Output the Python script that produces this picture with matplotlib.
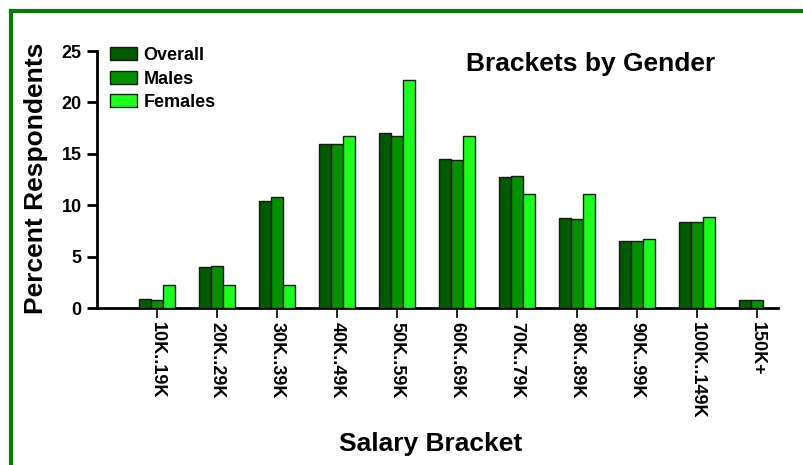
import matplotlib
matplotlib.use("Agg")
import matplotlib.pyplot as plt
from matplotlib.lines import Line2D
import numpy as np

plt.rcParams['font.family'] = ['Liberation Sans', 'DejaVu Sans']

brackets = ["10K..19K", "20K..29K", "30K..39K", "40K..49K", "50K..59K", "60K..69K",
            "70K..79K", "80K..89K", "90K..99K", "100K..149K", "150K+"]
overall = [0.9, 4.0, 10.4, 16.0, 17.0, 14.5, 12.7, 8.8, 6.5, 8.4, 0.8]
males = [0.8, 4.1, 10.8, 16.0, 16.7, 14.4, 12.8, 8.7, 6.5, 8.4, 0.8]
females = [2.2, 2.2, 2.2, 16.7, 22.2, 16.7, 11.1, 11.1, 6.7, 8.9, 0.0]

series = [("Overall", overall, "#005a00"),
          ("Males", males, "#009000"),
          ("Females", females, "#1cff1c")]

fig = plt.figure(figsize=(8.04, 4.65), dpi=100)
ax = fig.add_axes([0.1206, 0.3376, 0.847, 0.5527])

x = np.arange(len(brackets))
w = 0.2
for i, (name, vals, col) in enumerate(series):
    vals = np.array(vals)
    keep = vals > 0
    ax.bar(x[keep] + (i - 1) * w, vals[keep], width=w, color=col,
           edgecolor="#1a1a1a", linewidth=1.0, label=name, zorder=3)

ax.set_xlim(-1, 10.35)
ax.set_ylim(0, 25)
ax.set_yticks([0, 5, 10, 15, 20, 25])
ax.set_xticks(x)
ax.set_xticklabels(brackets, rotation=-90, fontsize=13, fontweight="bold",
                   va="top", ha="center")
for lab in ax.get_yticklabels():
    lab.set_fontweight("bold")
    lab.set_fontsize(13)

ax.spines["top"].set_visible(False)
ax.spines["right"].set_visible(False)
ax.spines["left"].set_linewidth(2)
ax.spines["bottom"].set_linewidth(2)
ax.tick_params(axis="y", length=7, width=2, pad=4)
ax.tick_params(axis="x", length=7, width=1.2, pad=3)

fig.text(0.0445, 0.617, "Percent Respondents", fontsize=19, fontweight="bold",
         rotation=90, ha="center", va="center")
fig.text(0.535, 0.045, "Salary Bracket", fontsize=19, fontweight="bold",
         ha="center", va="center")
fig.text(0.735, 0.862, "Brackets by Gender", fontsize=19, fontweight="bold",
         ha="center", va="center")

leg = fig.legend(loc="upper left", bbox_to_anchor=(110 / 804, 1 - 47 / 465),
                 frameon=False, prop={"weight": "bold", "size": 13},
                 handlelength=1.5, handleheight=0.72, handletextpad=0.35,
                 labelspacing=0.36, borderpad=0, borderaxespad=0)

# green page border (top and left only)
fig.add_artist(Line2D([0.0137, 1.0], [0.976, 0.976], color="#007a00", lw=3,
                      transform=fig.transFigure))
fig.add_artist(Line2D([0.0137, 0.0137], [0.0, 0.976], color="#007a00", lw=3,
                      transform=fig.transFigure))

fig.savefig("out.png", dpi=100)
